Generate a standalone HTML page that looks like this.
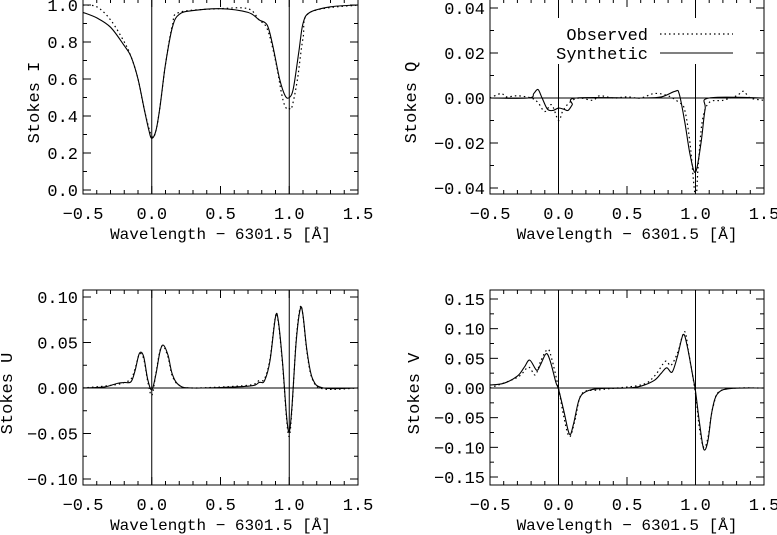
<!DOCTYPE html>
<html><head><meta charset="utf-8"><style>
body{margin:0;background:#fff;}
svg{display:block;font-family:"Liberation Mono",monospace;}
</style></head><body>
<svg id="c" width="777" height="535"></svg>
<script>
const xTicks=[-0.5,0,0.5,1.0,1.5];
const xTickLabels=["\u22120.5","0.0","0.5","1.0","1.5"];
const iSynX=[-0.5,-0.4,-0.3,-0.2,-0.15,-0.1,-0.05,-0.02,0,0.03,0.06,0.1,0.15,0.2,0.3,0.5,0.7,0.78,0.84,0.88,0.93,0.97,1.0,1.03,1.07,1.1,1.15,1.3,1.5];
const iSynY=[0.96,0.93,0.88,0.78,0.72,0.60,0.42,0.32,0.28,0.32,0.45,0.68,0.88,0.95,0.97,0.98,0.96,0.92,0.89,0.78,0.60,0.51,0.50,0.55,0.75,0.90,0.96,0.99,1.0];
const iObsX=[-0.5,-0.4,-0.3,-0.2,-0.15,-0.1,-0.05,0,0.03,0.06,0.1,0.15,0.2,0.5,0.7,0.78,0.84,0.9,0.95,0.98,1.0,1.02,1.06,1.1,1.15,1.5];
const iObsY=[1.0,0.99,0.92,0.80,0.72,0.60,0.42,0.29,0.32,0.45,0.68,0.89,0.96,0.98,0.98,0.92,0.87,0.70,0.50,0.44,0.44,0.45,0.60,0.82,0.96,1.0];
const qSynX=[-0.5,-0.22,-0.18,-0.15,-0.12,-0.08,-0.04,0,0.04,0.07,0.1,0.13,0.6,0.75,0.85,0.88,0.92,0.96,1.0,1.04,1.07,1.1,1.5];
const qSynY=[0,0,0.002,0.0038,0,-0.005,-0.0055,-0.0045,-0.005,-0.0055,-0.003,0,0,0.0005,0.003,0.002,-0.01,-0.025,-0.033,-0.02,-0.005,0,0];
const qObsX=[-0.5,-0.42,-0.38,-0.3,-0.2,-0.15,-0.1,-0.05,0,0.03,0.08,0.15,0.25,0.3,0.4,0.5,0.6,0.7,0.8,0.88,0.92,0.96,1.0,1.02,1.05,1.1,1.2,1.3,1.35,1.4,1.5];
const qObsY=[0,0.002,0.0005,0.001,0,-0.002,-0.006,-0.003,-0.010,-0.006,-0.002,0,-0.001,0.001,0,0.0005,0,0.002,0.001,-0.002,-0.005,-0.02,-0.044,-0.03,-0.01,-0.002,-0.001,0.001,0.003,0,-0.001];
const uSynX=[-0.5,-0.35,-0.25,-0.2,-0.15,-0.12,-0.09,-0.06,-0.03,0,0.03,0.06,0.085,0.12,0.15,0.2,0.3,0.7,0.78,0.82,0.86,0.9,0.92,0.95,0.98,1.0,1.02,1.05,1.08,1.1,1.13,1.17,1.25,1.5];
const uSynY=[0,0.001,0.005,0.006,0.007,0.02,0.038,0.035,0.01,-0.002,0.015,0.04,0.047,0.035,0.015,0.003,0,0.002,0.006,0.008,0.03,0.078,0.074,0.03,-0.03,-0.048,-0.02,0.05,0.087,0.08,0.04,0.01,0,0];
const uObsX=[-0.5,-0.35,-0.25,-0.2,-0.15,-0.12,-0.09,-0.06,-0.03,0,0.03,0.06,0.085,0.12,0.15,0.2,0.3,0.7,0.78,0.82,0.86,0.9,0.92,0.95,0.98,1.0,1.02,1.05,1.08,1.1,1.13,1.17,1.25,1.5];
const uObsY=[0,0.002,0.004,0.006,0.01,0.022,0.037,0.033,0.008,-0.008,0.016,0.041,0.046,0.033,0.013,0.003,0,0.003,0.008,0.01,0.032,0.079,0.072,0.028,-0.033,-0.053,-0.022,0.052,0.089,0.079,0.038,0.009,-0.001,0];
const vSynX=[-0.5,-0.4,-0.3,-0.25,-0.21,-0.16,-0.13,-0.09,-0.06,-0.02,0,0.04,0.08,0.11,0.15,0.2,0.3,0.5,0.6,0.7,0.75,0.79,0.83,0.87,0.91,0.94,0.98,1.0,1.03,1.06,1.09,1.12,1.16,1.25,1.5];
const vSynY=[0.005,0.008,0.02,0.035,0.047,0.03,0.04,0.058,0.045,0.01,-0.002,-0.04,-0.078,-0.06,-0.02,-0.006,-0.001,0,0.003,0.013,0.025,0.034,0.027,0.055,0.09,0.07,0.02,-0.005,-0.06,-0.103,-0.09,-0.04,-0.01,-0.001,0];
const vObsX=[-0.5,-0.3,-0.22,-0.17,-0.13,-0.08,-0.05,0,0.04,0.08,0.12,0.17,0.3,0.6,0.7,0.78,0.82,0.87,0.92,0.95,1.0,1.03,1.06,1.09,1.13,1.2,1.5];
const vObsY=[0,0.018,0.035,0.022,0.045,0.065,0.05,0,-0.05,-0.082,-0.055,-0.01,-0.003,0.005,0.02,0.045,0.038,0.06,0.095,0.06,-0.01,-0.07,-0.1,-0.085,-0.03,-0.003,0];
const iTicks=[0,0.2,0.4,0.6,0.8,1.0];
const iTickLabels=["0.0","0.2","0.4","0.6","0.8","1.0"];
const qTicks=[-0.04,-0.02,0,0.02,0.04];
const qTickLabels=["\u22120.04","\u22120.02","0.00","0.02","0.04"];
const uTicks=[-0.1,-0.05,0,0.05,0.1];
const uTickLabels=["\u22120.10","\u22120.05","0.00","0.05","0.10"];
const vTicks=[-0.15,-0.1,-0.05,0,0.05,0.1,0.15];
const vTickLabels=["\u22120.15","\u22120.10","\u22120.05","0.00","0.05","0.10","0.15"];

const NS="http://www.w3.org/2000/svg";
const svg=document.getElementById('c');
function mk(t,a,p){const e=document.createElementNS(NS,t);for(const k in a)e.setAttribute(k,a[k]);(p||svg).appendChild(e);return e;}
function smooth(pts){let d="M"+pts[0][0].toFixed(1)+","+pts[0][1].toFixed(1);
 for(let i=0;i<pts.length-1;i++){const p0=pts[Math.max(i-1,0)],p1=pts[i],p2=pts[i+1],p3=pts[Math.min(i+2,pts.length-1)];
  const c1x=p1[0]+(p2[0]-p0[0])/6,c1y=p1[1]+(p2[1]-p0[1])/6,c2x=p2[0]-(p3[0]-p1[0])/6,c2y=p2[1]-(p3[1]-p1[1])/6;
  d+=" C"+c1x.toFixed(1)+","+c1y.toFixed(1)+" "+c2x.toFixed(1)+","+c2y.toFixed(1)+" "+p2[0].toFixed(1)+","+p2[1].toFixed(1);}
 return d;}
function panel(o){
 const g=mk('g',{});
 
 
 const L=o.L,R=o.R,T=o.T,B=o.B;
 const xs=v=>L+(v+0.5)/2*(R-L);
 const ys=v=>o.y0+(v-o.v0)*(o.y1-o.y0)/(o.v1-o.v0);
 const clipId='clip'+o.name;
 const cp=mk('clipPath',{id:clipId},g);mk('rect',{x:L,y:T,width:R-L,height:B-T},cp);
 [0,1].forEach(w=>{const ln=mk('line',{x1:xs(w),x2:xs(w),y1:T,y2:B,stroke:'#000','stroke-width':1},g);
  });
 if(o.zero){const z=mk('line',{x1:L,x2:R,y1:ys(0),y2:ys(0),stroke:'#000','stroke-width':1},g);
  }
 const ob=mk('path',{d:smooth(o.ox.map((x,i)=>[xs(x),ys(o.oy[i])])),fill:'none',stroke:'#000','stroke-width':1.2,'stroke-dasharray':'1.5,3','clip-path':'url(#'+clipId+')'},g);
 
 const sy=mk('path',{d:smooth(o.sx.map((x,i)=>[xs(x),ys(o.sy[i])])),fill:'none',stroke:'#000','stroke-width':1.1,'clip-path':'url(#'+clipId+')'},g);
 
 const fr=mk('rect',{x:L,y:T,width:R-L,height:B-T,fill:'none',stroke:'#000','stroke-width':1},g);
 
 for(let k=0;k<=20;k++){const v=-0.5+k*0.1,x=xs(v),len=(k%5==0)?8:4;
  mk('line',{x1:x,x2:x,y1:B,y2:B-len,stroke:'#000'},g);mk('line',{x1:x,x2:x,y1:T,y2:T+len,stroke:'#000'},g);}
 xTicks.forEach((v,i)=>{const t=mk('text',{x:xs(v),y:B+25,'font-size':17,'text-anchor':'middle'},g);t.textContent=xTickLabels[i];
  });
 const xt=mk('text',{x:(L+R)/2,y:B+45,'font-size':16,'text-anchor':'middle'},g);xt.textContent="Wavelength \u2212 6301.5 [\u00c5]";
 
 const st=(o.ticks[1]-o.ticks[0])/o.minor;
 for(let v=o.ticks[0]-st*o.minor;v<=o.ticks[o.ticks.length-1]+st*o.minor+1e-9;v+=st){const y=ys(v);if(y<T-0.5||y>B+0.5)continue;
  const maj=Math.abs(Math.round((v-o.ticks[0])/st)%o.minor)==0;const len=maj?8:4;
  mk('line',{x1:L,x2:L+len,y1:y,y2:y,stroke:'#000'},g);mk('line',{x1:R,x2:R-len,y1:y,y2:y,stroke:'#000'},g);}
 o.ticks.forEach((v,i)=>{const t=mk('text',{x:L-5,y:ys(v)+6,'font-size':17,'text-anchor':'end'},g);t.textContent=o.labels[i];
  });
 const yt=mk('text',{x:o.ytx,y:(T+B)/2+6,'font-size':17,'text-anchor':'middle',transform:'rotate(-90 '+o.ytx+' '+((T+B)/2+6)+')'},g);yt.textContent=o.ytitle;
 
}
panel({name:'panel-stokes-i',L:83,R:358,T:-1,B:194,v0:0,y0:190,v1:1,y1:5,ticks:iTicks,labels:iTickLabels,minor:2,ox:iObsX,oy:iObsY,sx:iSynX,sy:iSynY,zero:false,ytitle:'Stokes I',ytx:39});
panel({name:'panel-stokes-q',L:490,R:764,T:-1,B:194,v0:0,y0:98,v1:0.04,y1:8,ticks:qTicks,labels:qTickLabels,minor:2,ox:qObsX,oy:qObsY,sx:qSynX,sy:qSynY,zero:true,ytitle:'Stokes Q',ytx:416});
panel({name:'panel-stokes-u',L:83,R:358,T:290,B:485,v0:0,y0:388,v1:0.1,y1:297,ticks:uTicks,labels:uTickLabels,minor:2,ox:uObsX,oy:uObsY,sx:uSynX,sy:uSynY,zero:true,ytitle:'Stokes U',ytx:12});
panel({name:'panel-stokes-v',L:490,R:764,T:290,B:485,v0:0,y0:388,v1:0.15,y1:299,ticks:vTicks,labels:vTickLabels,minor:2,ox:vObsX,oy:vObsY,sx:vSynX,sy:vSynY,zero:true,ytitle:'Stokes V',ytx:419});
const lg=mk('g',{});


mk('rect',{x:552,y:18,width:185,height:46,fill:'#fff'},lg);
const t1=mk('text',{x:648,y:40,'font-size':17,'text-anchor':'end'},lg);t1.textContent='Observed';

mk('line',{x1:660,x2:733,y1:34,y2:34,stroke:'#000','stroke-width':1.2,'stroke-dasharray':'1.5,3'},lg);
const t2=mk('text',{x:648,y:59,'font-size':17,'text-anchor':'end'},lg);t2.textContent='Synthetic';

mk('line',{x1:660,x2:733,y1:53,y2:53,stroke:'#000','stroke-width':1.1},lg);
</script>
</body></html>
